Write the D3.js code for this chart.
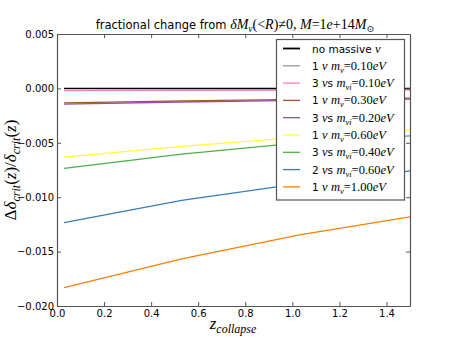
<!DOCTYPE html>
<html>
<head>
<meta charset="utf-8">
<script src="https://cdn.jsdelivr.net/npm/d3@7"></script>
<style>
  body { margin: 0; background: #fff; }
  text { font-family: "DejaVu Sans", sans-serif; }
  .math { font-family: "Liberation Serif", "DejaVu Serif", serif; font-style: italic; }
</style>
</head>
<body>
<div id="chart"></div>
<script>
// collapse redshifts sampled
const zValues = [0.03, 0.53, 1.03, 1.53]

// fractional change per model, one array per legend entry
const noMassive = [0, 0, 0, 0]
const one010 = [-0.00016, -0.00014, -0.00012, -0.00011]
const three010 = [-0.00020, -0.00017, -0.00015, -0.00013]
const one030 = [-0.00133, -0.00115, -0.00100, -0.00088]
const three020 = [-0.00145, -0.00125, -0.00110, -0.00097]
const one060 = [-0.00632, -0.00533, -0.00450, -0.00382]
const three040 = [-0.00735, -0.00605, -0.00501, -0.00432]
const two060 = [-0.01234, -0.01030, -0.00875, -0.00750]
const one100 = [-0.01831, -0.01566, -0.01347, -0.01170]

const xTicks = [0.0, 0.2, 0.4, 0.6, 0.8, 1.0, 1.2, 1.4]
const yTicks = [0.005, 0.000, -0.005, -0.010, -0.015, -0.020]

const series = [
    { n: null, color: "#000000", values: noMassive },
    { n: "1", s: false, sub: "ν", val: "=0.10", color: "#999999", values: one010 },
    { n: "3", s: true, sub: "νi", val: "=0.10", color: "#f781bf", values: three010 },
    { n: "1", s: false, sub: "ν", val: "=0.30", color: "#a65628", values: one030 },
    { n: "3", s: true, sub: "νi", val: "=0.20", color: "#984ea3", values: three020 },
    { n: "1", s: false, sub: "ν", val: "=0.60", color: "#ffff33", values: one060 },
    { n: "3", s: true, sub: "νi", val: "=0.40", color: "#4daf4a", values: three040 },
    { n: "2", s: true, sub: "νi", val: "=0.60", color: "#377eb8", values: two060 },
    { n: "1", s: false, sub: "ν", val: "=1.00", color: "#ff7f00", values: one100 }
]

const width = 455, height = 341
const margin = { left: 57, right: 45, top: 34, bottom: 35 }

const svg = d3.select("#chart").append("svg")
    .attr("width", width)
    .attr("height", height)

const x = d3.scaleLinear().domain([0, 1.5]).range([margin.left, width - margin.right])
const y = d3.scaleLinear().domain([-0.020, 0.005]).range([height - margin.bottom, margin.top])

svg.append("clipPath").attr("id", "clip")
    .append("rect")
    .attr("x", x(0)).attr("y", y(0.005))
    .attr("width", x(1.5) - x(0)).attr("height", y(-0.020) - y(0.005))

const line = d3.line()
    .x((d, i) => x(zValues[i]))
    .y(d => y(d))

const plot = svg.append("g").attr("clip-path", "url(#clip)")
series.forEach(function (s) {
    plot.append("path")
        .datum(s.values)
        .attr("fill", "none")
        .attr("stroke", s.color)
        .attr("stroke-width", 1.3)
        .attr("d", line)
})

// axes with inward ticks on all sides
const tickLen = 4
const axisColor = "#555"
const axBottom = svg.append("g").attr("transform", `translate(0,${y(-0.020)})`)
    .call(d3.axisBottom(x).tickValues(xTicks).tickFormat(d3.format(".1f")).tickSizeInner(-tickLen).tickSizeOuter(0).tickPadding(4))
const axTop = svg.append("g").attr("transform", `translate(0,${y(0.005)})`)
    .call(d3.axisTop(x).tickValues(xTicks).tickFormat("").tickSizeInner(-tickLen).tickSizeOuter(0))
const axLeft = svg.append("g").attr("transform", `translate(${x(0)},0)`)
    .call(d3.axisLeft(y).tickValues(yTicks).tickFormat(d3.format(".3f")).tickSizeInner(-tickLen).tickSizeOuter(0).tickPadding(3))
const axRight = svg.append("g").attr("transform", `translate(${x(1.5)},0)`)
    .call(d3.axisRight(y).tickValues(yTicks).tickFormat("").tickSizeInner(-tickLen).tickSizeOuter(0))

;[axBottom, axTop, axLeft, axRight].forEach(function (a) {
    a.select(".domain").attr("stroke", axisColor).attr("stroke-width", 1.2)
    a.selectAll(".tick line").attr("stroke", axisColor)
    a.selectAll("text").attr("fill", "#000").style("font-size", "10px").style("font-family", "DejaVu Sans, sans-serif")
})

// title
const title = svg.append("text")
    .attr("x", 235).attr("y", 29)
    .attr("text-anchor", "middle")
    .style("font-size", "11.5px")
title.append("tspan").text("fractional change from ")
const tm = function (txt, italic) {
    return title.append("tspan").attr("class", "math").style("font-size", "14px")
        .style("font-style", italic ? "italic" : "normal").text(txt)
}
tm("δM", true)
tm("ν", true).attr("dy", 3).style("font-size", "9.5px")
tm("(<", false).attr("dy", -3)
tm("R", true)
tm(")≠0, ", false)
tm("M", true)
tm("=1", false)
tm("e", true)
tm("+14", false)
tm("M", true)
tm("⊙", false).attr("dy", 3).style("font-size", "9.5px")

// x label
const xl = svg.append("text")
    .attr("class", "math")
    .attr("x", 233).attr("y", 329)
    .attr("text-anchor", "middle")
    .style("font-size", "17px")
xl.append("tspan").text("z")
xl.append("tspan").attr("dy", 4).style("font-size", "12px").text("collapse")

// y label
const yl = svg.append("text")
    .attr("class", "math")
    .attr("transform", `translate(16,${(y(0.005) + y(-0.020)) / 2}) rotate(-90)`)
    .attr("text-anchor", "middle")
    .style("font-size", "17px")
yl.append("tspan").style("font-style", "normal").text("Δ")
yl.append("tspan").text("δ")
yl.append("tspan").attr("dy", 4).style("font-size", "12px").text("crit")
yl.append("tspan").attr("dy", -4).style("font-style", "normal").text("(")
yl.append("tspan").text("z")
yl.append("tspan").style("font-style", "normal").text(")/")
yl.append("tspan").text("δ")
yl.append("tspan").attr("dy", 4).style("font-size", "12px").text("crit")
yl.append("tspan").attr("dy", -4).style("font-style", "normal").text("(")
yl.append("tspan").text("z")
yl.append("tspan").style("font-style", "normal").text(")")

// legend
const legend = svg.append("g")
legend.append("rect")
    .attr("x", 276.5).attr("y", 39.5)
    .attr("width", 128).attr("height", 160.5)
    .attr("fill", "#fff")
    .attr("stroke", axisColor)
    .attr("stroke-width", 1.2)

series.forEach(function (s, i) {
    const yy = 48.5 + i * 17.3
    legend.append("line")
        .attr("x1", 283).attr("x2", 300)
        .attr("y1", yy).attr("y2", yy)
        .attr("stroke", s.color)
        .attr("stroke-width", s.n === null ? 1.8 : 1.3)
    const t = legend.append("text")
        .attr("x", 312).attr("y", yy + 4)
        .style("font-size", "10.5px")
    if (s.n === null) {
        t.append("tspan").text("no massive ")
        t.append("tspan").attr("class", "math").style("font-size", "12.5px").text("ν")
        return
    }
    t.append("tspan").text(s.n + " ")
    t.append("tspan").attr("class", "math").style("font-size", "12.5px").text("ν")
    if (s.s) t.append("tspan").text("s")
    t.append("tspan").text(" ")
    t.append("tspan").attr("class", "math").style("font-size", "12.5px").text("m")
    t.append("tspan").attr("class", "math").attr("dy", 3).style("font-size", "8.5px").text(s.sub)
    t.append("tspan").attr("class", "math").attr("dy", -3).style("font-size", "12.5px").style("font-style", "normal").text(s.val)
    t.append("tspan").attr("class", "math").style("font-size", "12.5px").text("eV")
})
</script>
</body>
</html>
